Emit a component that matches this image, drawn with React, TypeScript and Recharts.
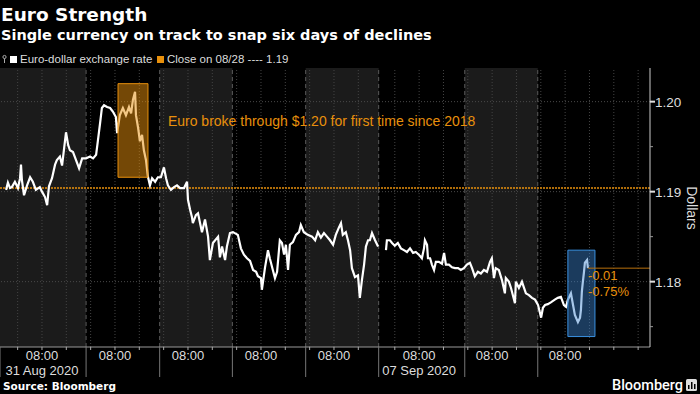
import React from 'react';
import {
  LineChart,
  Line,
  XAxis,
  YAxis,
  ReferenceArea,
  ReferenceLine,
  ReferenceDot,
} from 'recharts';

// x = chart hours: 0 is 00:00 on Mon 31 Aug, weekend squeezed out (Mon 7 Sep 00:00 = 124)
const week1Hours = [
  -3.8, -3.2, -2.5, -1.9, -0.9, 0.1, 0.8, 1.1, 1.4, 2.1, 3.1, 4.1, 5.0, 6.0, 7.3, 8.0, 9.0, 9.7, 10.3, 11.3,
  12.3, 12.9, 13.9, 14.6, 15.2, 15.9, 16.6, 17.2, 18.2, 19.2, 20.2, 21.2, 22.5, 23.8, 24.8, 25.8, 26.4, 27.1,
  27.7, 28.4, 29.4, 30.4, 31.3, 32.3,
  32.7, 33.6, 34.6, 35.6, 36.6, 37.3, 37.9, 38.6, 38.9, 39.6, 40.2, 40.9, 41.5, 42.2, 42.8, 43.5, 44.2, 45.2,
  46.1, 47.1, 48.1, 48.8, 49.4, 50.4, 51.4, 52.4, 53.4, 54.7, 55.7, 56.0, 56.7, 57.3, 57.6, 58.6, 59.3, 60.6,
  61.6, 62.6, 63.2, 64.2, 65.9, 66.5, 67.2, 68.2, 68.8, 69.8, 70.8, 72.4,
  73.4, 74.4, 75.4, 76.4, 77.4, 78.4, 79.0, 80.0, 80.3, 81.3, 82.3, 82.9, 83.9, 84.6, 85.3, 86.2, 86.9, 87.6,
  88.2, 88.9, 89.5, 90.5, 91.5, 92.5, 93.1, 94.1, 95.4, 96.8, 97.8, 98.7, 99.7, 100.7, 101.7, 102.7, 103.7,
  104.6, 105.6, 106.3, 106.9, 107.9, 108.6, 109.3, 109.9, 110.9, 111.9, 112.5, 113.2, 113.9, 114.5, 115.2,
  115.8, 116.5, 117.5, 118.5,
];
const week1Rates = [
  1.1902, 1.191, 1.1904, 1.1905, 1.1911, 1.1904, 1.1915, 1.193, 1.1913, 1.1896, 1.1907, 1.1916, 1.1911, 1.1902,
  1.1905, 1.19, 1.1894, 1.1885, 1.1906, 1.1915, 1.193, 1.1935, 1.1939, 1.1929, 1.1946, 1.1966, 1.1952, 1.1946,
  1.1944, 1.1935, 1.1926, 1.1937, 1.1937, 1.1939, 1.1937, 1.1941, 1.1957, 1.1976, 1.1993, 1.1996, 1.1994,
  1.1993, 1.1989, 1.1983,
  1.1965, 1.1985, 1.1993, 1.1985, 1.1994, 1.1987, 1.2002, 1.2011, 1.1985, 1.1971, 1.1956, 1.1963, 1.1946,
  1.1935, 1.1917, 1.1907, 1.1915, 1.1911, 1.1916, 1.1916, 1.1927, 1.1915, 1.1907, 1.1902, 1.1905, 1.1907,
  1.1904, 1.1904, 1.1911, 1.1891, 1.188, 1.1872, 1.1865, 1.1874, 1.1876, 1.1855, 1.1869, 1.185, 1.1824, 1.1843,
  1.185, 1.1827, 1.1839, 1.1824, 1.1839, 1.1854, 1.1855, 1.1852,
  1.1837, 1.183, 1.1826, 1.1823, 1.1813, 1.1811, 1.1806, 1.1804, 1.1791, 1.1815, 1.1835, 1.1826, 1.1813,
  1.1804, 1.1811, 1.1846, 1.1843, 1.183, 1.1841, 1.1813, 1.1841, 1.1844, 1.1852, 1.1855, 1.1863, 1.1855,
  1.1852, 1.185, 1.1846, 1.1855, 1.1849, 1.1854, 1.185, 1.1846, 1.1841, 1.1852, 1.186, 1.1865, 1.1852, 1.1855,
  1.1846, 1.1835, 1.1815, 1.1805, 1.1807, 1.1782, 1.1802, 1.1819, 1.1839, 1.1846, 1.1846, 1.1854, 1.1846,
  1.1839,
];
const weekendGap = 120;
const week2Hours = [
  121.1, 121.4, 122.4, 123.1, 124.0, 125.0, 126.0, 127.0, 128.0, 129.0, 130.0, 130.9, 131.9, 132.9, 133.6,
  133.9, 134.6, 134.9, 135.6, 136.2, 136.9, 137.5, 138.5, 139.5, 140.2, 140.8, 141.8, 142.8, 143.8, 144.8,
  145.7, 146.7, 147.7, 148.7, 149.4, 150.3, 151.3, 152.3, 153.3, 154.3, 155.3, 155.9, 156.6, 157.2, 158.2,
  159.2, 160.2, 160.5, 161.5, 162.2, 163.5, 163.8, 164.8, 165.8, 166.4, 167.1, 168.1, 169.1, 170.1, 171.1,
  172.1, 172.7, 173.4, 174.3, 175.3, 176.6, 177.6, 178.6, 179.6, 180.3, 180.9, 181.9, 182.6, 183.2, 184.2,
  184.9, 185.2, 185.5, 185.8, 186.2, 186.5, 187.2, 187.5,
];
const week2Rates = [
  1.1835, 1.1846, 1.1846, 1.1843, 1.184, 1.1843, 1.1837, 1.1835, 1.1833, 1.1837, 1.1832, 1.1833, 1.183, 1.1826,
  1.1837, 1.1846, 1.1841, 1.1826, 1.1826, 1.1819, 1.1813, 1.1822, 1.1822, 1.182, 1.1832, 1.1819, 1.1819,
  1.1816, 1.1815, 1.1815, 1.1813, 1.1815, 1.1819, 1.1821, 1.1815, 1.1806, 1.1811, 1.1809, 1.1813, 1.1811,
  1.1822, 1.1826, 1.1804, 1.1815, 1.1813, 1.1802, 1.1787, 1.1804, 1.18, 1.1793, 1.1776, 1.18, 1.1793, 1.18,
  1.1794, 1.1787, 1.1785, 1.1782, 1.178, 1.1774, 1.176, 1.1771, 1.1774, 1.1775, 1.1777, 1.178, 1.1782, 1.1783,
  1.1774, 1.1772, 1.178, 1.1787, 1.1774, 1.1763, 1.1755, 1.176, 1.1769, 1.1789, 1.1799, 1.1811, 1.1821,
  1.1824, 1.1815,
];

const xDomain = [-5.8, 207.9];
const yDomain = [1.17274, 1.20374];
const dayBreaks = [-5.8, 22.5, 46.7, 70.6, 94.7, 118.7, 147, 171];
const greyDays = [
  [-5.8, 22.5],
  [46.7, 70.6],
  [94.7, 118.7],
  [147, 171],
];
const gridHours = [
  0, 8, 16, 24, 32, 40, 48, 56, 64, 72, 80, 88, 96, 104, 112, 124, 132, 140, 148, 156, 164, 172, 180, 188, 196,
  204,
];
const labelHours = [8, 32, 56, 80, 104, 132, 156, 180];
const labelTexts = ['08:00', '08:00', '08:00', '08:00', '08:00', '08:00', '08:00', '08:00'];
const dateHours = [8, 132];
const dateTexts = ['31 Aug 2020', '07 Sep 2020'];
const yMajor = [1.18, 1.19, 1.2];
const yMinor = [1.175, 1.185, 1.195];

const closeAug28 = 1.1904;
const lastRate = 1.1815;
const lastHour = 187.5;
const breakoutBox = { x1: 33, x2: 42.85, y1: 1.1916, y2: 1.202 };
const latestBox = { x1: 180.9, x2: 189.8, y1: 1.1739, y2: 1.1835 };
const breakoutNote = { x: 49.4, y: 1.1979, text: 'Euro broke through $1.20 for first time since 2018' };
const changeNotes = [
  { x: 187.5, y: 1.18065, text: '-0.01' },
  { x: 187.5, y: 1.17895, text: '-0.75%' },
];

const ORANGE = '#e8900c';
const SANS = '"Liberation Sans", Arial, sans-serif';
const BOLD = '"DejaVu Sans", Verdana, sans-serif';

const data = [
  ...week1Hours.map((h, i) => ({ h, v: week1Rates[i] as number | null })),
  { h: weekendGap, v: null },
  ...week2Hours.map((h, i) => ({ h, v: week2Rates[i] as number | null })),
];

const xTicks = [...dayBreaks, ...gridHours].sort((a, b) => a - b);
const yTicks = [...yMinor, ...yMajor].sort((a, b) => a - b);

const XTick = (props: any) => {
  const { x, y, payload } = props;
  const v = payload.value;
  if (dayBreaks.includes(v)) {
    return <line x1={x} x2={x} y1={y} y2={y + 30} stroke="#777" />;
  }
  const li = labelHours.indexOf(v);
  const di = dateHours.indexOf(v);
  return (
    <g>
      <line x1={x} x2={x} y1={y} y2={y + 3} stroke="#aaa" />
      {li >= 0 && (
        <text x={x} y={y + 13} textAnchor="middle" fill="#ddd" fontSize={13} fontFamily={SANS}>
          {labelTexts[li]}
        </text>
      )}
      {di >= 0 && (
        <text x={x} y={y + 28} textAnchor="middle" fill="#ddd" fontSize={13} fontFamily={SANS}>
          {dateTexts[di]}
        </text>
      )}
    </g>
  );
};

const YTick = (props: any) => {
  const { x, y, payload } = props;
  const v = payload.value;
  if (yMajor.some((m) => Math.abs(m - v) < 1e-6)) {
    return (
      <g>
        <line x1={x} x2={x + 5} y1={y} y2={y} stroke="#ddd" strokeWidth={2} />
        <text x={x + 5} y={y} dy="0.36em" fill="#ddd" fontSize={13.5} fontFamily={SANS}>
          {v.toFixed(2)}
        </text>
      </g>
    );
  }
  return <line x1={x} x2={x + 3} y1={y} y2={y} stroke="#999" />;
};

export default function App() {
  return (
    <div style={{ position: 'absolute', left: 0, top: 0, width: 700, height: 394, background: '#000', overflow: 'hidden' }}>
      <LineChart
        width={700}
        height={394}
        data={data}
        margin={{ top: 68, right: 0, bottom: 0, left: 0 }}
        style={{ position: 'absolute', left: 0, top: 0 }}
      >
        {greyDays.map(([a, b]) => (
          <ReferenceArea key={'d' + a} x1={a} x2={b} fill="#1b1b1b" fillOpacity={1} stroke="none" zIndex={-90} ifOverflow="hidden" />
        ))}
        {gridHours.map((g) => (
          <ReferenceLine key={'g' + g} x={g} stroke="#444" strokeDasharray="1 2" zIndex={-80} />
        ))}
        {dayBreaks.slice(1).map((b) => (
          <ReferenceLine key={'b' + b} x={b} stroke="#5a5a5a" strokeDasharray="4 3" zIndex={-80} />
        ))}
        {yMajor.map((m) => (
          <ReferenceLine key={'y' + m} y={m} stroke="#4a4a4a" strokeDasharray="1 2" zIndex={-80} />
        ))}
        <ReferenceLine y={closeAug28} stroke={ORANGE} strokeDasharray="2 1" strokeWidth={1.5} zIndex={-70} />
        <XAxis
          dataKey="h"
          type="number"
          domain={xDomain}
          ticks={xTicks}
          interval={0}
          allowDataOverflow
          tick={XTick}
          tickLine={false}
          tickSize={0}
          tickMargin={0}
          height={47}
          axisLine={{ stroke: '#999' }}
        />
        <YAxis
          orientation="right"
          type="number"
          domain={yDomain}
          ticks={yTicks}
          interval={0}
          allowDataOverflow
          tick={YTick}
          tickLine={false}
          tickSize={0}
          tickMargin={0}
          width={50}
          axisLine={{ stroke: '#ccc' }}
        />
        <Line
          type="linear"
          dataKey="v"
          stroke="#fff"
          strokeWidth={2.2}
          dot={false}
          activeDot={false}
          isAnimationActive={false}
        />
        <ReferenceArea
          x1={breakoutBox.x1}
          x2={breakoutBox.x2}
          y1={breakoutBox.y1}
          y2={breakoutBox.y2}
          fill={ORANGE}
          fillOpacity={0.5}
          stroke={ORANGE}
          strokeWidth={1}
          zIndex={450}
        />
        <ReferenceArea
          x1={latestBox.x1}
          x2={latestBox.x2}
          y1={latestBox.y1}
          y2={latestBox.y2}
          fill="#3c82ce"
          fillOpacity={0.45}
          stroke="#3a90e0"
          strokeWidth={1}
          zIndex={450}
        />
        <ReferenceLine
          segment={[
            { x: lastHour, y: lastRate },
            { x: xDomain[1], y: lastRate },
          ]}
          stroke="#b8700c"
          zIndex={460}
        />
        <ReferenceDot
          x={breakoutNote.x}
          y={breakoutNote.y}
          r={0}
          fill="none"
          stroke="none"
          label={{ value: breakoutNote.text, position: 'right', offset: 0, fill: ORANGE, fontSize: 14, fontFamily: SANS }}
        />
        {changeNotes.map((n) => (
          <ReferenceDot
            key={n.text}
            x={n.x}
            y={n.y}
            r={0}
            fill="none"
            stroke="none"
            label={{ value: n.text, position: 'right', offset: 0, fill: ORANGE, fontSize: 13, fontFamily: SANS }}
          />
        ))}
      </LineChart>

      <svg width={700} height={394} style={{ position: 'absolute', left: 0, top: 0, pointerEvents: 'none' }}>
        <text x={1} y={21} fill="#fff" fontSize={18.5} fontWeight="bold" fontFamily={BOLD}>
          Euro Strength
        </text>
        <text x={1} y={39.5} fill="#fff" fontSize={14.5} fontWeight="bold" fontFamily={BOLD}>
          Single currency on track to snap six days of declines
        </text>

        {/* legend */}
        <circle cx={4.5} cy={57} r={1.6} fill="none" stroke="#aaa" />
        <line x1={4.5} x2={4.5} y1={58.5} y2={63} stroke="#aaa" />
        <rect x={10} y={56} width={7} height={7} fill="#fff" />
        <text x={20} y={63} fill="#ddd" fontSize={11.5} fontFamily={SANS}>
          Euro-dollar exchange rate
        </text>
        <rect x={157} y={56} width={7} height={7} fill={ORANGE} />
        <text x={167} y={63} fill="#ddd" fontSize={11.5} fontFamily={SANS}>
          Close on 08/28 ---- 1.19
        </text>

        <text
          x={692}
          y={208}
          transform="rotate(90 692 208)"
          textAnchor="middle"
          dominantBaseline="central"
          fill="#ddd"
          fontSize={14}
          fontFamily={SANS}
        >
          Dollars
        </text>

        <text x={3} y={390} fill="#fff" fontSize={10.5} fontWeight="bold" fontFamily={BOLD}>
          Source: Bloomberg
        </text>
        <text x={612} y={390} fill="#fff" fontSize={14.5} fontWeight={500} fontFamily="Roboto, sans-serif">
          Bloomberg
        </text>
        <rect x={686} y={379} width={11} height={12} rx={1.5} fill="#ddd" />
        <rect x={688} y={385} width={1.5} height={4} fill="#000" />
        <rect x={691} y={382} width={1.5} height={7} fill="#000" />
        <rect x={694} y={384} width={1.5} height={5} fill="#000" />
      </svg>
    </div>
  );
}
